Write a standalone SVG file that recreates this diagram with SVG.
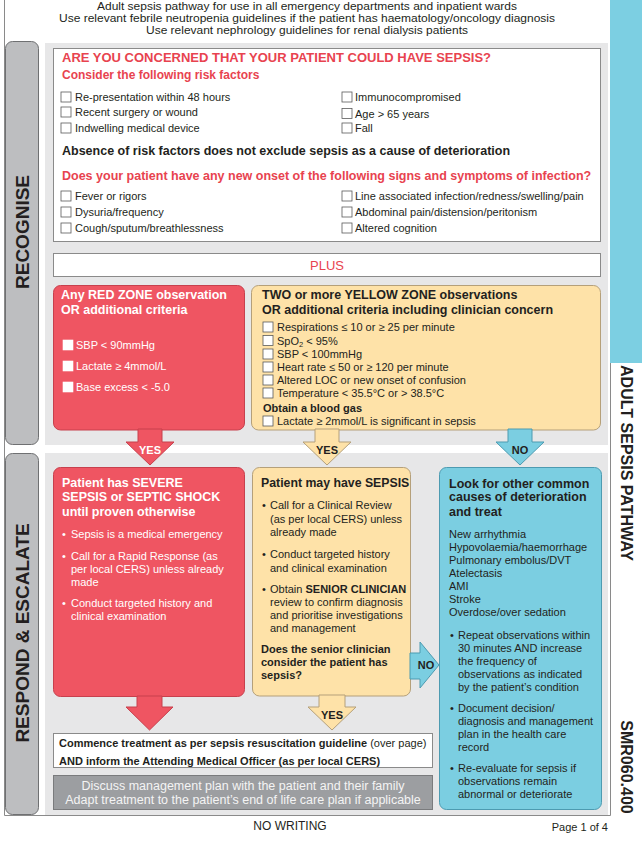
<svg xmlns="http://www.w3.org/2000/svg" width="642" height="850" viewBox="0 0 642 850">
<style>
text{font-family:"Liberation Sans",Arial,sans-serif;fill:#231f20}
.b{font-weight:bold}
.red{fill:#e8434f}
.w{fill:#ffffff}
.cb{fill:#ffffff;stroke:#5a5a5a;stroke-width:0.8}
.cbw{fill:#ffffff;stroke:#ffffff;stroke-width:0.6}
.panel{fill:#e7e7e8}
.side{fill:#bdbec0;stroke:#6f7072;stroke-width:1}
.wbox{fill:#ffffff;stroke:#8a8a8a;stroke-width:1}
.rbox{fill:#ef5562;stroke:#c7404d;stroke-width:1}
.ybox{fill:#fee2a8;stroke:#b5a07a;stroke-width:1}
.bbox{fill:#7bcee1;stroke:#4d9bb1;stroke-width:1}
.s11{font-size:11px}
.s12{font-size:12px}
.hd{font-size:11.2px}
.tt{font-size:12.5px;font-weight:bold}
</style>

<!-- frame and right strip -->
<g id="frame">
<rect x="610" y="0" width="32" height="363" fill="#7ccfe2"/>
<path d="M4.5 0 V815.5 H610.5 V363" fill="none" stroke="#8a8a8a" stroke-width="1"/>
</g>

<g id="header">
<text x="307" y="10" class="hd" text-anchor="middle" textLength="420" lengthAdjust="spacingAndGlyphs">Adult sepsis pathway for use in all emergency departments and inpatient wards</text>
<text x="307" y="22" class="hd" text-anchor="middle" textLength="496" lengthAdjust="spacingAndGlyphs">Use relevant febrile neutropenia guidelines if the patient has haematology/oncology diagnosis</text>
<text x="307" y="34" class="hd" text-anchor="middle" textLength="322" lengthAdjust="spacingAndGlyphs">Use relevant nephrology guidelines for renal dialysis patients</text>
</g>

<g id="right-labels">
<text class="b" font-size="16" text-anchor="middle" transform="translate(621,463) rotate(90)">ADULT SEPSIS PATHWAY</text>
<text class="b" font-size="16" text-anchor="middle" transform="translate(621,767) rotate(90)">SMR060.400</text>
</g>

<!-- panels -->
<g id="recognise-section">
<rect class="panel" x="45" y="43" width="563" height="402"/>
<rect class="side" x="5.5" y="41.5" width="33" height="403" rx="7"/>
<text class="b" font-size="19" text-anchor="middle" fill="#2b2b2b" transform="translate(28.8,232) rotate(-90)">RECOGNISE</text>
</g>
<g id="respond-section">
<rect class="panel" x="45" y="453" width="563" height="362"/>
<rect class="side" x="5.5" y="453.5" width="33" height="361" rx="7"/>
<text class="b" font-size="19" text-anchor="middle" fill="#2b2b2b" transform="translate(28.8,633) rotate(-90)">RESPOND &amp; ESCALATE</text>
</g>

<!-- Recognise question box -->
<g id="risk-box">
<rect class="wbox" x="53.5" y="48.5" width="547" height="193"/>
<text x="62" y="62" class="b red" font-size="13">ARE YOU CONCERNED THAT YOUR PATIENT COULD HAVE SEPSIS?</text>
<text x="62" y="78.5" class="b red s12">Consider the following risk factors</text>
<rect class="cb" x="61" y="92" width="10" height="10"/>
<rect class="cb" x="61" y="107" width="10" height="10"/>
<rect class="cb" x="61" y="123" width="10" height="10"/>
<text x="75" y="101" class="s11">Re-presentation within 48 hours</text>
<text x="75" y="116" class="s11">Recent surgery or wound</text>
<text x="75" y="132" class="s11">Indwelling medical device</text>
<rect class="cb" x="342" y="92" width="10" height="10"/>
<rect class="cb" x="342" y="108.5" width="10" height="10"/>
<rect class="cb" x="342" y="123" width="10" height="10"/>
<text x="355" y="101" class="s11">Immunocompromised</text>
<text x="355" y="117.5" class="s11">Age &gt; 65 years</text>
<text x="355" y="132" class="s11">Fall</text>
<text x="62" y="154.5" class="tt">Absence of risk factors does not exclude sepsis as a cause of deterioration</text>
<text x="62" y="179.5" class="tt red">Does your patient have any new onset of the following signs and symptoms of infection?</text>
<rect class="cb" x="61" y="191" width="10" height="10"/>
<rect class="cb" x="61" y="207" width="10" height="10"/>
<rect class="cb" x="61" y="223" width="10" height="10"/>
<text x="75" y="200" class="s11">Fever or rigors</text>
<text x="75" y="216" class="s11">Dysuria/frequency</text>
<text x="75" y="232" class="s11">Cough/sputum/breathlessness</text>
<rect class="cb" x="342" y="191" width="10" height="10"/>
<rect class="cb" x="342" y="207" width="10" height="10"/>
<rect class="cb" x="342" y="223" width="10" height="10"/>
<text x="355" y="200" class="s11">Line associated infection/redness/swelling/pain</text>
<text x="355" y="216" class="s11">Abdominal pain/distension/peritonism</text>
<text x="355" y="232" class="s11">Altered cognition</text>
</g>

<g id="plus-box">
<rect class="wbox" x="53.5" y="253.5" width="547" height="23"/>
<text x="327" y="269.5" font-size="13" class="red" text-anchor="middle">PLUS</text>
</g>

<g id="red-zone">
<rect class="rbox" x="53.5" y="285.5" width="191" height="144.5" rx="7"/>
<text x="61" y="299" class="tt w">Any RED ZONE observation</text>
<text x="61" y="314" class="tt w">OR additional criteria</text>
<rect class="cbw" x="63" y="340" width="10" height="10"/>
<rect class="cbw" x="63" y="361" width="10" height="10"/>
<rect class="cbw" x="63" y="382" width="10" height="10"/>
<text x="76" y="349" class="s11 w">SBP &lt; 90mmHg</text>
<text x="76" y="370" class="s11 w">Lactate ≥ 4mmol/L</text>
<text x="76" y="391" class="s11 w">Base excess &lt; -5.0</text>
</g>

<g id="yellow-zone">
<rect class="ybox" x="251.5" y="285.5" width="349" height="144.5" rx="7"/>
<text x="262" y="299" class="tt">TWO or more YELLOW ZONE observations</text>
<text x="262" y="314" class="tt">OR additional criteria including clinician concern</text>
<rect class="cb" x="263" y="322" width="10" height="10"/>
<rect class="cb" x="263" y="335.5" width="10" height="10"/>
<rect class="cb" x="263" y="349" width="10" height="10"/>
<rect class="cb" x="263" y="362" width="10" height="10"/>
<rect class="cb" x="263" y="375" width="10" height="10"/>
<rect class="cb" x="263" y="388" width="10" height="10"/>
<rect class="cb" x="263" y="416" width="10" height="10"/>
<text x="277" y="331" class="s11">Respirations ≤ 10 or ≥ 25 per minute</text>
<text x="277" y="344.5" class="s11">SpO<tspan font-size="7.5" dy="2">2</tspan><tspan dy="-2"> &lt; 95%</tspan></text>
<text x="277" y="358" class="s11">SBP &lt; 100mmHg</text>
<text x="277" y="371" class="s11">Heart rate ≤ 50 or ≥ 120 per minute</text>
<text x="277" y="384" class="s11">Altered LOC or new onset of confusion</text>
<text x="277" y="397" class="s11">Temperature &lt; 35.5°C or &gt; 38.5°C</text>
<text x="263" y="412" class="s11 b">Obtain a blood gas</text>
<text x="277" y="425" class="s11">Lactate ≥ 2mmol/L is significant in sepsis</text>
</g>

<g id="severe-sepsis">
<rect class="rbox" x="53.5" y="467.5" width="191" height="229" rx="7"/>
<text x="62" y="486.5" class="tt w">Patient has SEVERE</text>
<text x="62" y="501" class="tt w">SEPSIS or SEPTIC SHOCK</text>
<text x="62" y="515.5" class="tt w">until proven otherwise</text>
<g class="s11">
<text x="62" y="538" class="w">•</text><text x="71" y="538" class="w">Sepsis is a medical emergency</text>
<text x="62" y="560" class="w">•</text><text x="71" y="560" class="w">Call for a Rapid Response (as</text>
<text x="71" y="573" class="w">per local CERS) unless already</text>
<text x="71" y="586" class="w">made</text>
<text x="62" y="607" class="w">•</text><text x="71" y="607" class="w">Conduct targeted history and</text>
<text x="71" y="620" class="w">clinical examination</text>
</g>
</g>

<g id="may-have-sepsis">
<rect class="ybox" x="252.5" y="467.5" width="158" height="228.5" rx="7"/>
<text x="261" y="486.5" class="b" font-size="12.3">Patient may have SEPSIS</text>
<g class="s11">
<text x="262" y="509">•</text><text x="270" y="509">Call for a Clinical Review</text>
<text x="270" y="523">(as per local CERS) unless</text>
<text x="270" y="536">already made</text>
<text x="262" y="558">•</text><text x="270" y="558">Conduct targeted history</text>
<text x="270" y="572">and clinical examination</text>
<text x="262" y="593">•</text><text x="270" y="593">Obtain <tspan class="b">SENIOR CLINICIAN</tspan></text>
<text x="270" y="606">review to confirm diagnosis</text>
<text x="270" y="619">and prioritise investigations</text>
<text x="270" y="632">and management</text>
<text x="261" y="653" class="b">Does the senior clinician</text>
<text x="261" y="666" class="b">consider the patient has</text>
<text x="261" y="679" class="b">sepsis?</text>
</g>
</g>

<g id="other-causes">
<rect class="bbox" x="439.5" y="467.5" width="162" height="342" rx="7"/>
<text x="449" y="487.5" class="tt">Look for other common</text>
<text x="449" y="501" class="tt">causes of deterioration</text>
<text x="449" y="515.5" class="tt">and treat</text>
<g class="s11">
<text x="449" y="538">New arrhythmia</text>
<text x="449" y="551">Hypovolaemia/haemorrhage</text>
<text x="449" y="564">Pulmonary embolus/DVT</text>
<text x="449" y="577">Atelectasis</text>
<text x="449" y="590">AMI</text>
<text x="449" y="603">Stroke</text>
<text x="449" y="616">Overdose/over sedation</text>
<text x="450" y="639">•</text><text x="458" y="639">Repeat observations within</text>
<text x="458" y="652">30 minutes AND increase</text>
<text x="458" y="665">the frequency of</text>
<text x="458" y="678">observations as indicated</text>
<text x="458" y="691">by the patient’s condition</text>
<text x="450" y="712">•</text><text x="458" y="712">Document decision/</text>
<text x="458" y="725">diagnosis and management</text>
<text x="458" y="738">plan in the health care</text>
<text x="458" y="751">record</text>
<text x="450" y="772">•</text><text x="458" y="772">Re-evaluate for sepsis if</text>
<text x="458" y="785">observations remain</text>
<text x="458" y="798">abnormal or deteriorate</text>
</g>
</g>

<g id="commence-treatment">
<rect class="wbox" x="53.5" y="733.5" width="379" height="34"/>
<text x="59" y="747" class="s11"><tspan class="b">Commence treatment as per sepsis resuscitation guideline</tspan> (over page)</text>
<text x="59" y="765" class="s11 b">AND inform the Attending Medical Officer (as per local CERS)</text>
</g>

<g id="discuss-plan">
<rect x="53.5" y="775.5" width="379" height="34" fill="#9c9ea1" stroke="#7a7b7d"/>
<text x="243" y="790" font-size="12.5" text-anchor="middle" style="fill:#f4f4f4">Discuss management plan with the patient and their family</text>
<text x="243" y="804" font-size="12.5" text-anchor="middle" style="fill:#f4f4f4">Adapt treatment to the patient’s end of life care plan if applicable</text>
</g>

<g id="connectors">
<polygon points="138,429 162,429 162,442 174,442 150,465 126,442 138,442" class="rbox"/>
<text x="150" y="454" class="s11 b w" text-anchor="middle">YES</text>
<polygon points="315,429 339,429 339,442 351,442 327,465 303,442 315,442" class="ybox"/>
<text x="327" y="454" class="s11 b" text-anchor="middle">YES</text>
<polygon points="508,429 532,429 532,442 544,442 520,465 496,442 508,442" class="bbox"/>
<text x="520" y="454" class="s11 b" text-anchor="middle">NO</text>
<polygon points="137,696 162,696 162,707 173,707 149.5,730 126,707 137,707" class="rbox"/>
<polygon points="319,695 345,695 345,707 356,707 332,730 308,707 319,707" class="ybox"/>
<text x="332" y="719" class="s11 b" text-anchor="middle">YES</text>
<polygon points="410,653 420,653 420,642 439,665 420,688 420,679 410,679" class="bbox"/>
<text x="426" y="669" class="s11 b" text-anchor="middle">NO</text>
</g>

<g id="footer">
<text x="290" y="830" class="s12" text-anchor="middle">NO WRITING</text>
<text x="608" y="831" class="s11" text-anchor="end">Page 1 of 4</text>
</g>
</svg>
